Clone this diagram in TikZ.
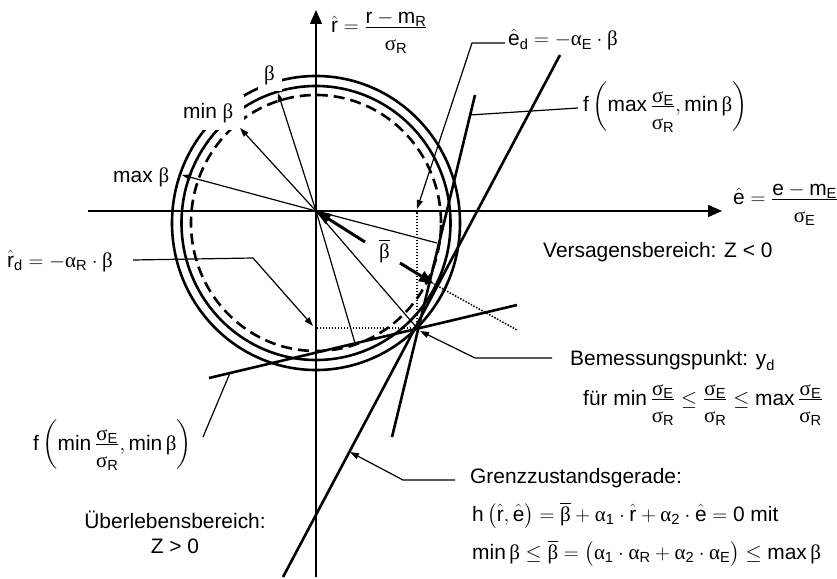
\documentclass[tikz,border=0pt]{standalone}
\usepackage{amsmath}
\usepackage[no-math]{fontspec}
\setmainfont{Liberation Sans}
\newfontfamily\grk{Liberation Serif}
\usetikzlibrary{arrows.meta}
\newcommand{\tx}[1]{\text{#1}}
\newcommand{\Gb}{\text{\grk β}}
\newcommand{\Ga}{\text{\grk α}}
\newcommand{\Gs}{\text{\grk σ}}
\newcommand{\nm}[1]{\smash[b]{\raisebox{-4bp}{$#1$}}}
\newcommand{\dn}[1]{\raisebox{-3bp}{$#1$}}
\newcommand{\sEsR}{\dfrac{\nm{\Gs_{\tx{E}}}}{\dn{\Gs_{\tx{R}}}}}
\newcommand{\lbfont}{\fontsize{21}{25}\selectfont}
\begin{document}
\begin{tikzpicture}[x=1bp,y=-1bp,
  thinl/.style={line width=1.2bp},
  thickl/.style={line width=2.6bp},
  axl/.style={line width=1.5bp},
  circ/.style={line width=2.6bp},
  dotl/.style={line width=1.5bp, dash pattern=on 1.5bp off 1.5bp},
  lbl/.style={inner sep=0pt, anchor=base west, font=\lbfont},
  tipa/.style={-{Triangle[length=9bp,width=6bp]}},
  axtip/.style={-{Triangle[length=14bp,width=12bp]}},
  bigtip/.style={-{Triangle[length=15bp,width=11bp]}},
]
\useasboundingbox (0,0) rectangle (837,579);
% coordinates
\coordinate (O) at (316,211);
\coordinate (C) at (316,223);
\coordinate (XL) at (88,211);
\coordinate (XR) at (722,211);
\coordinate (YB) at (316,577);
\coordinate (YT) at (316,10);
\coordinate (TmaxB) at (182,175);
\coordinate (TminB) at (240,128);
\coordinate (TB) at (278,93);
\coordinate (P1) at (437,243);
\coordinate (P2) at (355,343);
\coordinate (YD) at (417,328);
\coordinate (Q1) at (417,211);
\coordinate (Q2) at (316,328);
\coordinate (G1) at (283,577);
\coordinate (G2) at (560,55);
\coordinate (F1) at (475,95);
\coordinate (F2) at (392,437);
\coordinate (M1) at (209,378);
\coordinate (M2) at (517,305);
\coordinate (A1) at (365,242);
\coordinate (A2) at (400,263);
\coordinate (A2t) at (434,284);
\coordinate (D2) at (517,330);
% leader corners
\coordinate (Ed1) at (505,43);
\coordinate (Ed2) at (472,43);
\coordinate (Ed3) at (417,209);
\coordinate (Rd1) at (133,260);
\coordinate (Rd2) at (253,258);
\coordinate (Rd3) at (313,326);
\coordinate (Bm1) at (552,358);
\coordinate (Bm2) at (475,358);
\coordinate (Bm3) at (420,331);
\coordinate (Gz1) at (455,480);
\coordinate (Gz2) at (403,480);
\coordinate (Gz3) at (350,452);
\coordinate (Fx1) at (470,115);
\coordinate (Fx2) at (578,108);
\coordinate (Fn1) at (230,373);
\coordinate (Fn2) at (203,437);

% circles
\draw[circ] (C) ellipse [x radius=144bp, y radius=147bp];
\draw[circ] (C) ellipse [x radius=134.5bp, y radius=137bp];
\draw[circ, dash pattern=on 11bp off 6bp] (C) ellipse [x radius=125bp, y radius=128bp];
% masks behind labels
\fill[white] (178,95) rectangle (244,130);
\fill[white] (258,60) rectangle (282,91);

% radius arrows and thin lines
\draw[thinl, tipa] (O) -- (TmaxB);
\draw[thinl, tipa] (O) -- (TminB);
\draw[thinl, tipa] (O) -- (TB);
\draw[thinl] (O) -- (P1);
\draw[thinl] (O) -- (YD);
\draw[thinl] (O) -- (P2);

% axes
\draw[axl, axtip] (XL) -- (XR);
\draw[axl, axtip] (YB) -- (YT);

% thick lines
\draw[thickl] (G1) -- (G2);
\draw[thickl] (F1) -- (F2);
\draw[thickl] (M1) -- (M2);

% dotted
\draw[dotl] (YD) -- (Q1);
\draw[dotl] (YD) -- (Q2);
\draw[dotl] (A2t) -- (D2);

% beta bar arrows
\draw[line width=3bp, bigtip] (A1) -- (O);
\draw[line width=3bp, bigtip] (A2) -- (A2t);

% leaders
\draw[thinl, tipa] (Ed1) -- (Ed2) -- (Ed3);
\draw[thinl, tipa] (Rd1) -- (Rd2) -- (Rd3);
\draw[thinl, tipa] (Bm1) -- (Bm2) -- (Bm3);
\draw[thinl, tipa] (Gz1) -- (Gz2) -- (Gz3);
\draw[thinl] (Fx1) -- (Fx2);
\draw[thinl] (Fn1) -- (Fn2);

% labels
\node[lbl] (Lr) at (331,33) {$\hat{\tx{r}}=\dfrac{\nm{\tx{r}-\tx{m}_{\tx{R}}}}{\dn{\Gs_{\tx{R}}}}$};
\node[lbl] (Le) at (733,205) {$\hat{\tx{e}}=\dfrac{\nm{\tx{e}-\tx{m}_{\tx{E}}}}{\dn{\Gs_{\tx{E}}}}$};
\node[lbl] (Led) at (508,46) {$\hat{\tx{e}}_{\tx{d}}=-\Ga_{\tx{E}}\cdot\Gb$};
\node[lbl] (Lfmax) at (583,112) {$\tx{f}\left(\tx{max}\,\sEsR,\tx{min}\,\Gb\right)$};
\node[lbl] (Lfmin) at (33,450) {$\tx{f}\left(\tx{min}\,\sEsR,\tx{min}\,\Gb\right)$};
\node[lbl] (Lrd) at (7,267) {$\hat{\tx{r}}_{\tx{d}}=-\Ga_{\tx{R}}\cdot\Gb$};
\node[lbl] (Lmax) at (113,183) {max {\grk β}};
\node[lbl] (Lmin) at (183,119) {min {\grk β}};
\node[lbl] (Lb) at (264,81) {{\grk β}};
\node[lbl] (Lbb) at (379,258) {$\overline{\Gb}$};
\node[lbl] (Lvers) at (543,257) {Versagensbereich: Z < 0};
\node[lbl] (Lbem) at (570,365) {Bemessungspunkt: $\tx{y}_{\tx{d}}$};
\node[lbl] (Lfuer) at (583,405) {$\tx{für min}\,\sEsR\le\sEsR\le\tx{max}\,\sEsR$};
\node[lbl] (Lgz) at (470,483) {Grenzzustandsgerade:};
\node[lbl] (Lh) at (472,521) {$\tx{h}\left(\hat{\tx{r}},\hat{\tx{e}}\right)=\overline{\Gb}+\Ga_{\tx{1}}\cdot\hat{\tx{r}}+\Ga_{\tx{2}}\cdot\hat{\tx{e}}=\tx{0 mit}$};
\node[lbl] (Lmb) at (472,559) {$\tx{min}\,\Gb\le\overline{\Gb}=\bigl(\Ga_{\tx{1}}\cdot\Ga_{\tx{R}}+\Ga_{\tx{2}}\cdot\Ga_{\tx{E}}\bigr)\le\tx{max}\,\Gb$};
\node[font=\lbfont, align=center, inner sep=0pt] (Lub) at (175,532) {Überlebensbereich:\\Z > 0};
\end{tikzpicture}
\end{document}
